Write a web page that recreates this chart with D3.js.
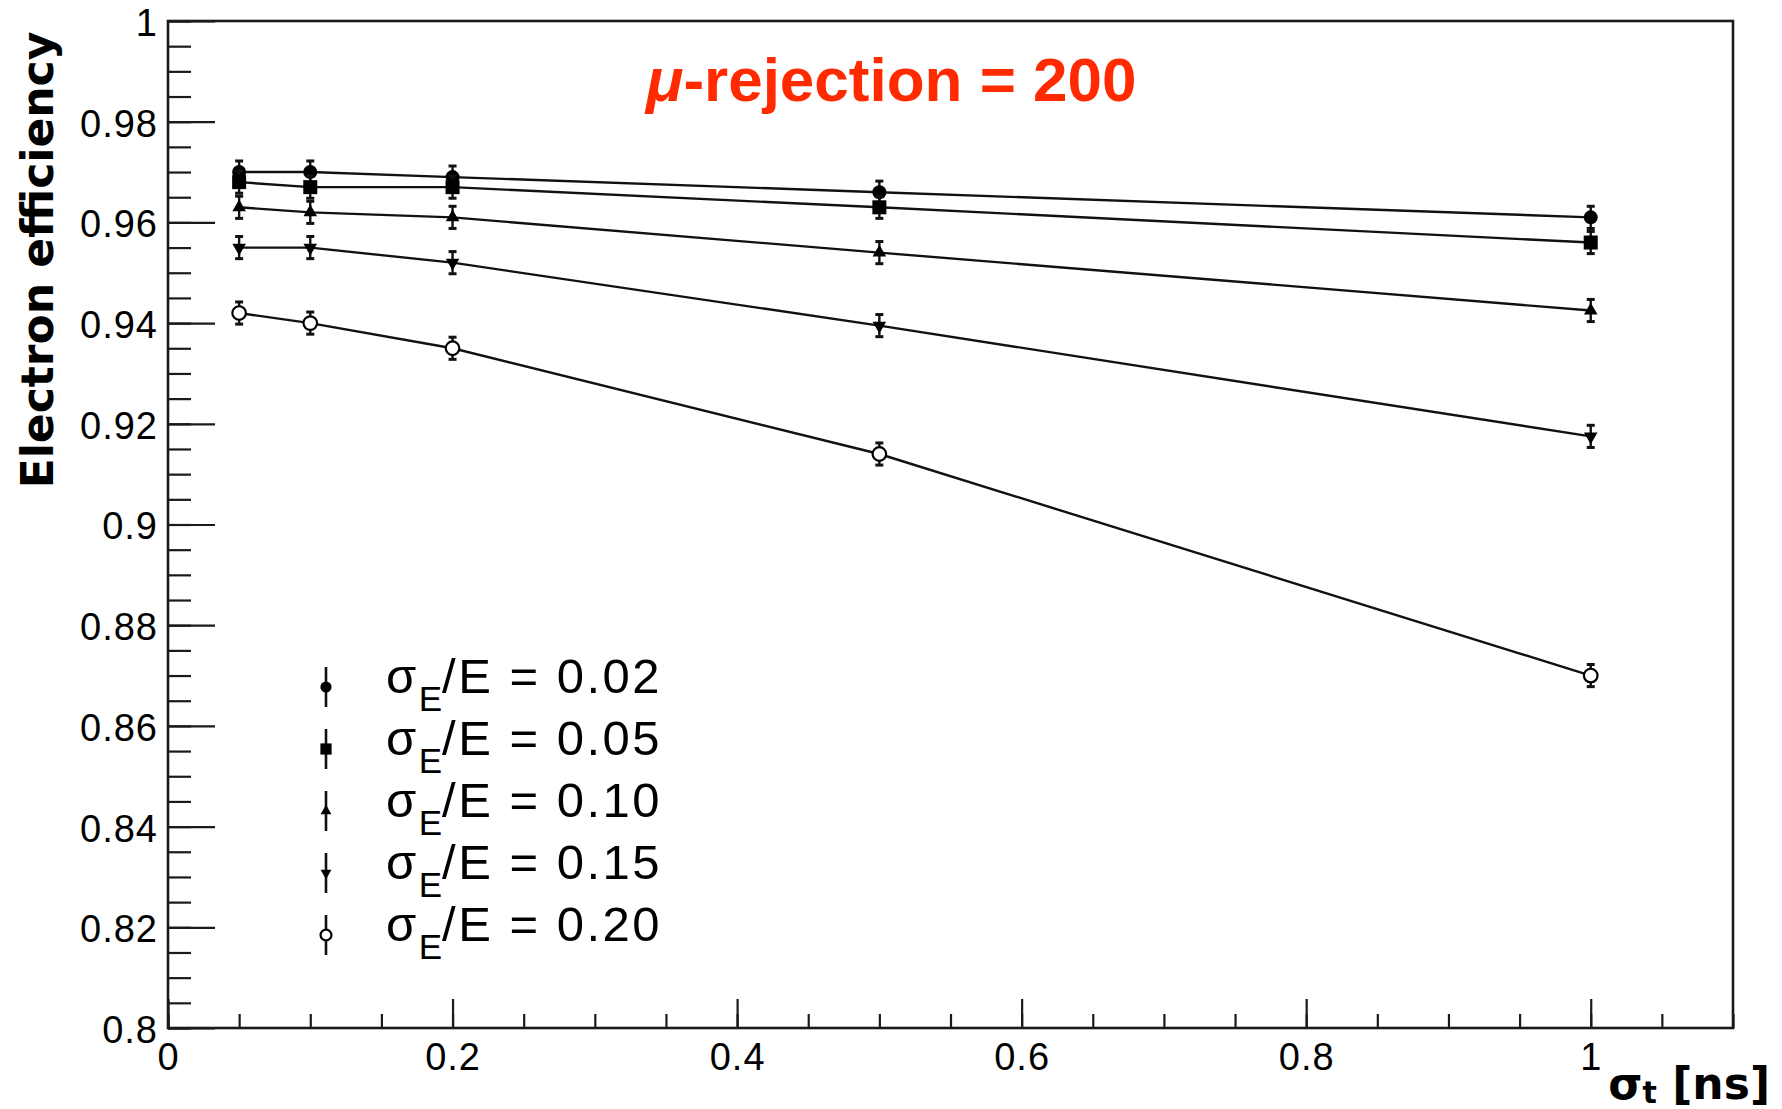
<!DOCTYPE html>
<html>
<head>
<meta charset="utf-8">
<script src="https://cdn.jsdelivr.net/npm/d3@7"></script>
<style>
  html, body { margin: 0; padding: 0; background: #fff; }
  svg { display: block; }
  .tick text { font-family: "Liberation Sans", Arial, sans-serif; font-size: 38px; fill: #000; letter-spacing: 1px; }
</style>
</head>
<body>
<svg id="chart" width="1782" height="1109"></svg>
<script>
// ---------------- data ----------------
const sigmaT = [0.05, 0.1, 0.2, 0.5, 1.0];
const seriesLabels = ["0.02", "0.05", "0.10", "0.15", "0.20"];
const eff002 = [0.970, 0.970, 0.969, 0.966, 0.961];
const eff005 = [0.968, 0.967, 0.967, 0.963, 0.956];
const eff010 = [0.963, 0.962, 0.961, 0.954, 0.9425];
const eff015 = [0.955, 0.955, 0.952, 0.9395, 0.9175];
const eff020 = [0.942, 0.940, 0.935, 0.914, 0.870];
const err002 = [0.0022, 0.0022, 0.0022, 0.0022, 0.0022];
const err005 = [0.0022, 0.0022, 0.0022, 0.0022, 0.0022];
const err010 = [0.0022, 0.0022, 0.0022, 0.0022, 0.0022];
const err015 = [0.0022, 0.0022, 0.0022, 0.0022, 0.0022];
const err020 = [0.0022, 0.0022, 0.0022, 0.0022, 0.0022];
const markerTypes = ["circle", "square", "triangleUp", "triangleDown", "openCircle"];
const xMajorTicks = [0, 0.2, 0.4, 0.6, 0.8, 1.0];
const yMajorTicks = [0.8, 0.82, 0.84, 0.86, 0.88, 0.9, 0.92, 0.94, 0.96, 0.98, 1.0];
const xDomain = [0, 1.1];
const yDomain = [0.8, 1.0];
const titleText = "-rejection = 200";
const yTitle = "Electron efficiency";

// ---------------- layout ----------------
const svg = d3.select("#chart");
const L = 168, R = 1733, T = 21, B = 1028;
const x = d3.scaleLinear().domain(xDomain).range([L, R]);
const y = d3.scaleLinear().domain(yDomain).range([B, T]);

const xMinor = d3.range(0, 1.1001, 0.05).map(v => +v.toFixed(3));
const yMinor = d3.range(0.8, 1.0001, 0.005).map(v => +v.toFixed(4));

// minor ticks
svg.append("g").attr("transform", `translate(0,${B})`)
  .call(d3.axisBottom(x).tickValues(xMinor).tickSize(-14).tickFormat(""))
  .call(g => g.select(".domain").remove())
  .call(g => g.selectAll("line").attr("stroke", "#1a1a1a").attr("stroke-width", 2.2));
svg.append("g").attr("transform", `translate(${L},0)`)
  .call(d3.axisLeft(y).tickValues(yMinor).tickSize(-23).tickFormat(""))
  .call(g => g.select(".domain").remove())
  .call(g => g.selectAll("line").attr("stroke", "#1a1a1a").attr("stroke-width", 2.2));

// major ticks + labels
svg.append("g").attr("transform", `translate(0,${B})`)
  .call(d3.axisBottom(x).tickValues(xMajorTicks).tickSize(-29).tickPadding(15).tickFormat(d3.format("")))
  .call(g => g.select(".domain").remove())
  .call(g => g.selectAll("line").attr("stroke", "#1a1a1a").attr("stroke-width", 2.2));
svg.append("g").attr("transform", `translate(${L},0)`)
  .call(d3.axisLeft(y).tickValues(yMajorTicks).tickSize(-47).tickPadding(10).tickFormat(d3.format("")))
  .call(g => g.select(".domain").remove())
  .call(g => g.selectAll("line").attr("stroke", "#1a1a1a").attr("stroke-width", 2.2))
  .call(g => g.selectAll("text").attr("dy", "0.38em"));

// frame
svg.append("rect").attr("x", L).attr("y", T).attr("width", R - L).attr("height", B - T)
  .attr("fill", "none").attr("stroke", "#1a1a1a").attr("stroke-width", 2.6);

// ---------------- series ----------------
const effs = [eff002, eff005, eff010, eff015, eff020];
const errs = [err002, err005, err010, err015, err020];
const series = effs.map((vals, i) => ({
  label: seriesLabels[i], marker: markerTypes[i],
  pts: sigmaT.map((t, j) => ({ t, v: vals[j], e: errs[i][j] }))
}));

const line = d3.line().x(d => x(d.t)).y(d => y(d.v));

function drawMarker(g, type, s) {
  if (type === "circle") {
    g.append("circle").attr("r", 7 * s).attr("fill", "#000");
  } else if (type === "square") {
    g.append("rect").attr("x", -7 * s).attr("y", -7 * s).attr("width", 14 * s).attr("height", 14 * s).attr("fill", "#000");
  } else if (type === "triangleUp") {
    g.append("path").attr("d", d3.symbol(d3.symbolTriangle, 80 * s * s)()).attr("fill", "#000");
  } else if (type === "triangleDown") {
    g.append("path").attr("d", d3.symbol(d3.symbolTriangle, 80 * s * s)()).attr("transform", "rotate(180)").attr("fill", "#000");
  } else if (type === "openCircle") {
    g.append("circle").attr("r", 6.8 * s).attr("fill", "#fff").attr("stroke", "#000").attr("stroke-width", 2.2);
  }
}

series.forEach(s => {
  svg.append("path").datum(s.pts).attr("d", line)
    .attr("fill", "none").attr("stroke", "#111").attr("stroke-width", 2.4);
});
series.forEach(s => {
  const g = svg.append("g");
  s.pts.forEach(p => {
    const px = x(p.t), py = y(p.v), y1 = y(p.v + p.e), y2 = y(p.v - p.e);
    g.append("line").attr("x1", px).attr("x2", px).attr("y1", y1).attr("y2", y2).attr("stroke", "#111").attr("stroke-width", 2.4);
    [y1, y2].forEach(yy => g.append("line").attr("x1", px - 4).attr("x2", px + 4).attr("y1", yy).attr("y2", yy).attr("stroke", "#111").attr("stroke-width", 3));
    const m = g.append("g").attr("transform", `translate(${px},${py})`);
    drawMarker(m, s.marker, 1);
  });
});

// ---------------- legend ----------------
const legX = 326, legY0 = 687, legDy = 62;
series.forEach((s, i) => {
  const cy = legY0 + i * legDy;
  svg.append("line").attr("x1", legX).attr("x2", legX).attr("y1", cy - 20).attr("y2", cy + 20)
    .attr("stroke", "#111").attr("stroke-width", 2.6);
  const m = svg.append("g").attr("transform", `translate(${legX},${cy})`);
  drawMarker(m, s.marker, 0.8);
  const t = svg.append("text").attr("x", 386).attr("y", cy + 6)
    .attr("font-family", "Liberation Sans, Arial, sans-serif").attr("font-size", 49)
    .attr("letter-spacing", 2.5).attr("fill", "#000");
  t.append("tspan").text("σ");
  t.append("tspan").attr("font-size", 35).attr("dy", 18).attr("letter-spacing", 0).text("E");
  t.append("tspan").attr("dy", -18).text("/E = " + s.label);
});

// ---------------- titles ----------------
const title = svg.append("text").attr("x", 646).attr("y", 101)
  .attr("font-family", "Liberation Sans, Arial, sans-serif").attr("font-weight", "bold")
  .attr("font-size", 62).attr("fill", "#ff2a00");
title.append("tspan").attr("font-style", "italic").text("μ");
title.append("tspan").text(titleText);

svg.append("text")
  .attr("transform", "translate(53,260) rotate(-90)")
  .attr("text-anchor", "middle")
  .attr("font-family", "DejaVu Sans, sans-serif").attr("font-weight", "bold")
  .attr("font-size", 44).attr("fill", "#000").text(yTitle);

const xt = svg.append("text").attr("x", 1770).attr("y", 1099).attr("text-anchor", "end")
  .attr("font-family", "DejaVu Sans, sans-serif").attr("font-weight", "bold")
  .attr("font-size", 44).attr("fill", "#000");
xt.append("tspan").text("σ");
xt.append("tspan").attr("font-size", 30).attr("dy", 4).text("t");
xt.append("tspan").attr("dy", -4).text(" [ns]");
</script>
</body>
</html>
